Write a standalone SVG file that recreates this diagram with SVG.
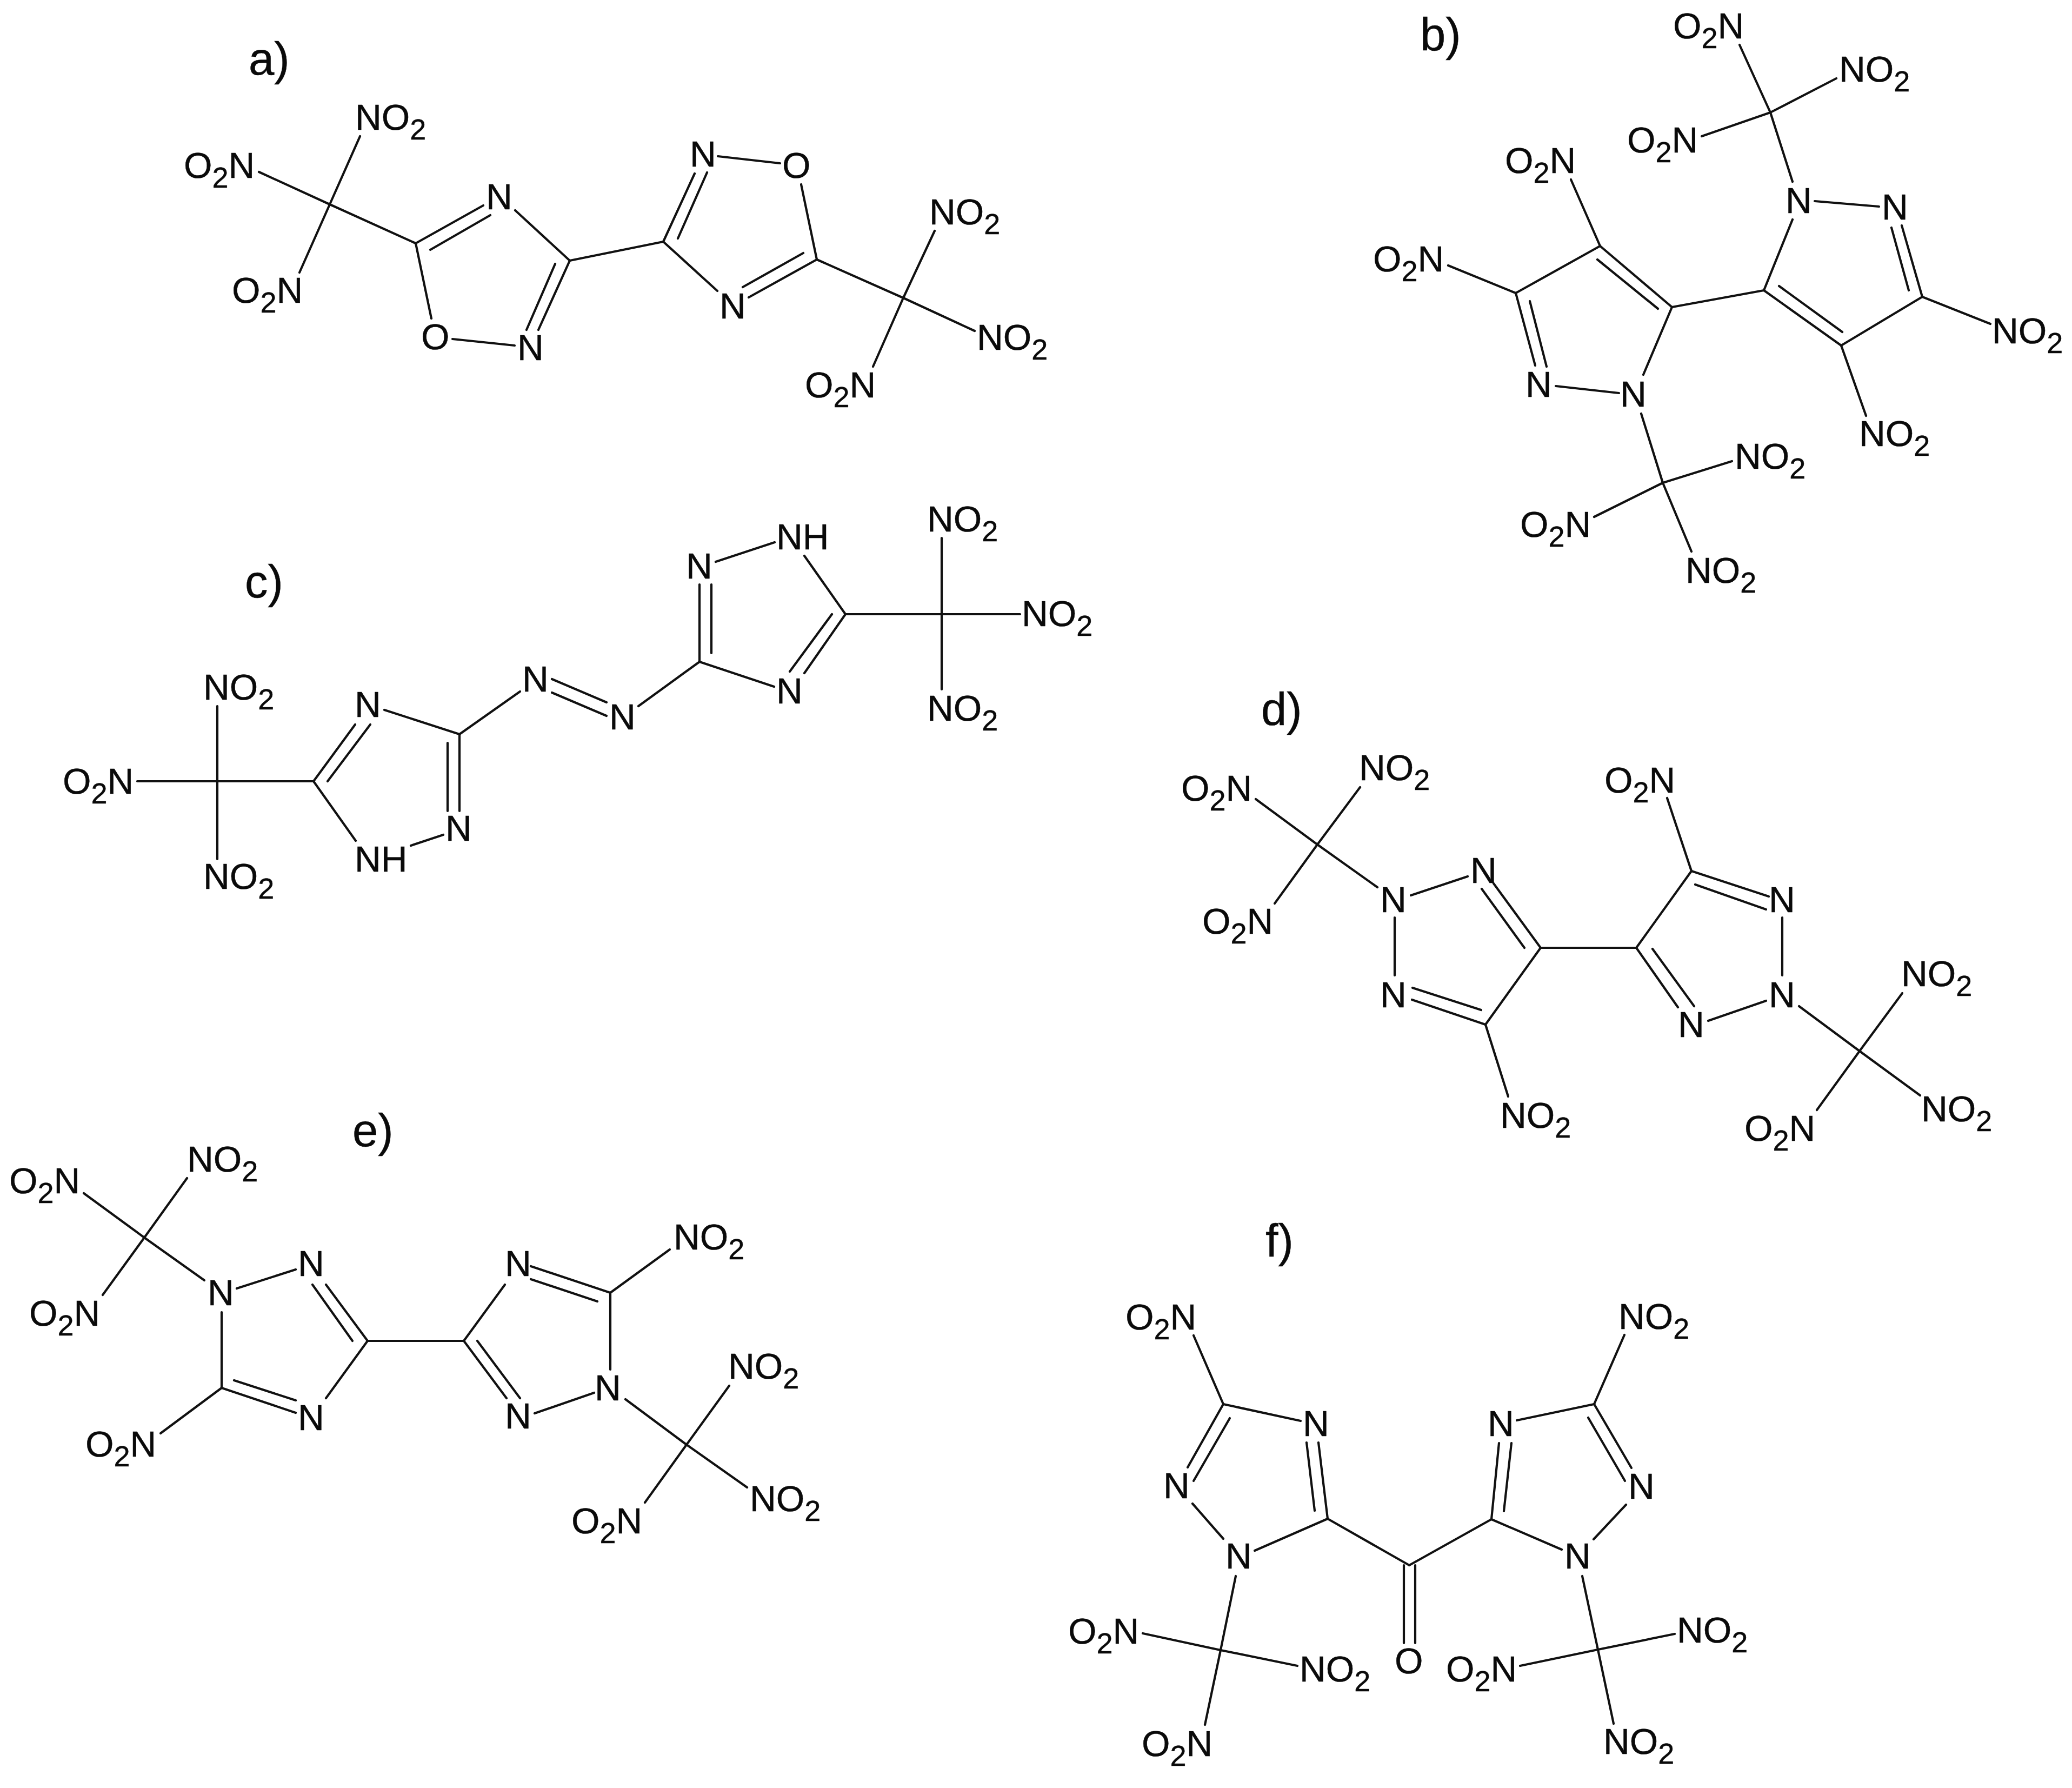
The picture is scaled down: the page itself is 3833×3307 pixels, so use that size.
<svg xmlns="http://www.w3.org/2000/svg" width="3833" height="3307" viewBox="0 0 3833 3307">
<style>
text{font-family:"Liberation Sans",Arial,sans-serif;font-size:67.5px;fill:#0a0a0a;stroke:#0a0a0a;stroke-width:.5px}
.t{font-size:85px}
.s{font-size:54px}
#connectors line{stroke:#111;stroke-width:4.2;stroke-linecap:round}
</style>
<rect width="3833" height="3307" fill="#fff"/>
<g id="connectors">
<g id="bonds-a">
<line x1="610" y1="378" x2="666" y2="252"/><line x1="610" y1="378" x2="479" y2="318"/><line x1="610" y1="378" x2="554" y2="504"/><line x1="610" y1="378" x2="769" y2="450"/>
<line x1="769" y1="450" x2="894" y2="380"/><line x1="796" y1="462" x2="907" y2="398"/><line x1="953" y1="389" x2="1054" y2="482"/><line x1="769" y1="450" x2="798" y2="589"/><line x1="837" y1="627" x2="952" y2="639"/>
<line x1="1054" y1="482" x2="996" y2="610"/><line x1="1027" y1="488" x2="974" y2="610"/><line x1="1054" y1="482" x2="1227" y2="447"/>
<line x1="1227" y1="447" x2="1285" y2="321"/><line x1="1254" y1="441" x2="1308" y2="319"/><line x1="1328" y1="289" x2="1443" y2="302"/><line x1="1227" y1="447" x2="1327" y2="538"/>
<line x1="1511" y1="480" x2="1385" y2="550"/><line x1="1486" y1="468" x2="1374" y2="531"/><line x1="1482" y1="341" x2="1511" y2="480"/><line x1="1511" y1="480" x2="1671" y2="551"/>
<line x1="1671" y1="551" x2="1729" y2="427"/><line x1="1671" y1="551" x2="1803" y2="612"/><line x1="1671" y1="551" x2="1615" y2="678"/>
</g>
<g id="bonds-b">
<line x1="3275" y1="208" x2="3218" y2="83"/><line x1="3275" y1="208" x2="3397" y2="145"/><line x1="3275" y1="208" x2="3148" y2="252"/><line x1="3275" y1="208" x2="3316" y2="336"/>
<line x1="3357" y1="372" x2="3476" y2="382"/><line x1="3263" y1="537" x2="3316" y2="406"/><line x1="3263" y1="537" x2="3406" y2="639"/><line x1="3291" y1="529" x2="3408" y2="614"/>
<line x1="3406" y1="639" x2="3556" y2="549"/><line x1="3556" y1="549" x2="3518" y2="417"/><line x1="3531" y1="537" x2="3499" y2="421"/><line x1="3556" y1="549" x2="3682" y2="599"/><line x1="3406" y1="639" x2="3452" y2="769"/>
<line x1="3093" y1="568" x2="3263" y2="537"/><line x1="3093" y1="568" x2="2960" y2="455"/><line x1="2955" y1="480" x2="3067" y2="571"/><line x1="2960" y1="455" x2="2804" y2="542"/><line x1="2960" y1="455" x2="2906" y2="332"/><line x1="2804" y1="542" x2="2679" y2="491"/>
<line x1="2804" y1="542" x2="2840" y2="676"/><line x1="2830" y1="557" x2="2861" y2="678"/><line x1="2878" y1="714" x2="2995" y2="727"/><line x1="3093" y1="568" x2="3040" y2="693"/>
<line x1="3036" y1="765" x2="3076" y2="893"/><line x1="3076" y1="893" x2="3204" y2="853"/><line x1="3076" y1="893" x2="2949" y2="956"/><line x1="3076" y1="893" x2="3129" y2="1020"/>
</g>
<g id="bonds-c">
<line x1="402" y1="1445" x2="402" y2="1306"/><line x1="402" y1="1445" x2="402" y2="1589"/><line x1="402" y1="1445" x2="254" y2="1445"/><line x1="402" y1="1445" x2="580" y2="1445"/>
<line x1="580" y1="1445" x2="657" y2="1340"/><line x1="606" y1="1445" x2="685" y2="1340"/><line x1="711" y1="1313" x2="850" y2="1358"/><line x1="850" y1="1358" x2="962" y2="1279"/>
<line x1="850" y1="1358" x2="850" y2="1500"/><line x1="828" y1="1374" x2="828" y2="1500"/><line x1="820" y1="1544" x2="760" y2="1564"/><line x1="580" y1="1445" x2="658" y2="1555"/>
<line x1="1021" y1="1256" x2="1122" y2="1299"/><line x1="1021" y1="1281" x2="1122" y2="1324"/>
<line x1="1294" y1="1224" x2="1181" y2="1306"/><line x1="1294" y1="1224" x2="1294" y2="1081"/><line x1="1316" y1="1208" x2="1316" y2="1081"/><line x1="1324" y1="1039" x2="1433" y2="1003"/><line x1="1488" y1="1028" x2="1564" y2="1136"/>
<line x1="1564" y1="1136" x2="1742" y2="1136"/><line x1="1742" y1="1136" x2="1742" y2="995"/><line x1="1742" y1="1136" x2="1742" y2="1275"/><line x1="1742" y1="1136" x2="1887" y2="1136"/>
<line x1="1564" y1="1136" x2="1488" y2="1245"/><line x1="1539" y1="1136" x2="1461" y2="1242"/><line x1="1294" y1="1224" x2="1432" y2="1270"/>
</g>
<g id="bonds-d">
<line x1="2437" y1="1562" x2="2516" y2="1456"/><line x1="2437" y1="1562" x2="2323" y2="1478"/><line x1="2437" y1="1562" x2="2358" y2="1671"/><line x1="2437" y1="1562" x2="2548" y2="1641"/>
<line x1="2610" y1="1656" x2="2715" y2="1621"/><line x1="2580" y1="1697" x2="2580" y2="1804"/><line x1="2850" y1="1753" x2="2763" y2="1634"/><line x1="2820" y1="1753" x2="2741" y2="1644"/>
<line x1="2850" y1="1753" x2="3027" y2="1753"/><line x1="2850" y1="1753" x2="2748" y2="1895"/><line x1="2748" y1="1895" x2="2612" y2="1849"/><line x1="2740" y1="1868" x2="2613" y2="1827"/><line x1="2748" y1="1895" x2="2790" y2="2028"/>
<line x1="3027" y1="1753" x2="3129" y2="1611"/><line x1="3129" y1="1611" x2="3084" y2="1476"/><line x1="3129" y1="1611" x2="3272" y2="1658"/><line x1="3136" y1="1636" x2="3267" y2="1682"/>
<line x1="3297" y1="1697" x2="3297" y2="1804"/><line x1="3267" y1="1851" x2="3160" y2="1888"/><line x1="3027" y1="1753" x2="3104" y2="1863"/><line x1="3057" y1="1755" x2="3134" y2="1861"/>
<line x1="3440" y1="1944" x2="3328" y2="1861"/><line x1="3440" y1="1944" x2="3519" y2="1837"/><line x1="3440" y1="1944" x2="3552" y2="2026"/><line x1="3440" y1="1944" x2="3361" y2="2053"/>
</g>
<g id="bonds-e">
<line x1="267" y1="2289" x2="346" y2="2179"/><line x1="267" y1="2289" x2="155" y2="2207"/><line x1="267" y1="2289" x2="190" y2="2395"/><line x1="267" y1="2289" x2="378" y2="2368"/>
<line x1="438" y1="2383" x2="547" y2="2348"/><line x1="410" y1="2427" x2="410" y2="2567"/><line x1="410" y1="2567" x2="547" y2="2613"/><line x1="433" y1="2553" x2="547" y2="2590"/><line x1="410" y1="2567" x2="297" y2="2651"/>
<line x1="680" y1="2480" x2="603" y2="2376"/><line x1="652" y1="2480" x2="578" y2="2376"/><line x1="680" y1="2480" x2="603" y2="2586"/><line x1="680" y1="2480" x2="858" y2="2480"/>
<line x1="858" y1="2480" x2="934" y2="2376"/><line x1="1129" y1="2391" x2="982" y2="2342"/><line x1="1105" y1="2407" x2="982" y2="2366"/><line x1="1129" y1="2391" x2="1239" y2="2311"/><line x1="1129" y1="2391" x2="1129" y2="2533"/>
<line x1="1099" y1="2576" x2="989" y2="2614"/><line x1="858" y1="2480" x2="937" y2="2586"/><line x1="883" y1="2480" x2="962" y2="2586"/>
<line x1="1157" y1="2588" x2="1270" y2="2672"/><line x1="1270" y1="2672" x2="1349" y2="2563"/><line x1="1270" y1="2672" x2="1382" y2="2751"/><line x1="1270" y1="2672" x2="1193" y2="2779"/>
</g>
<g id="bonds-f">
<line x1="2208" y1="2470" x2="2263" y2="2597"/><line x1="2263" y1="2597" x2="2406" y2="2628"/><line x1="2263" y1="2597" x2="2197" y2="2714"/><line x1="2275" y1="2623" x2="2208" y2="2739"/><line x1="2206" y1="2781" x2="2263" y2="2846"/>
<line x1="2321" y1="2868" x2="2456" y2="2809"/><line x1="2456" y1="2809" x2="2439" y2="2668"/><line x1="2432" y1="2794" x2="2417" y2="2668"/><line x1="2456" y1="2809" x2="2607" y2="2895"/><line x1="2607" y1="2895" x2="2759" y2="2810"/>
<line x1="2597" y1="2895" x2="2597" y2="3039"/><line x1="2618" y1="2895" x2="2618" y2="3039"/><line x1="2286" y1="2915" x2="2258" y2="3052"/><line x1="2258" y1="3052" x2="2114" y2="3021"/><line x1="2258" y1="3052" x2="2400" y2="3081"/><line x1="2258" y1="3052" x2="2229" y2="3190"/>
<line x1="2759" y1="2810" x2="2773" y2="2669"/><line x1="2782" y1="2795" x2="2796" y2="2669"/><line x1="2806" y1="2627" x2="2949" y2="2597"/><line x1="2949" y1="2597" x2="3005" y2="2469"/><line x1="2949" y1="2597" x2="3018" y2="2715"/><line x1="2938" y1="2622" x2="3006" y2="2739"/>
<line x1="3008" y1="2783" x2="2948" y2="2847"/><line x1="2759" y1="2810" x2="2889" y2="2866"/><line x1="2927" y1="2915" x2="2956" y2="3051"/><line x1="2956" y1="3051" x2="3098" y2="3022"/><line x1="2956" y1="3051" x2="2812" y2="3081"/><line x1="2956" y1="3051" x2="2985" y2="3188"/>
</g>
</g>
<g id="mol-a">
<text class="t" x="460" y="138">a)</text>
<text x="657" y="240">NO<tspan class="s" dy="18">2</tspan></text>
<text x="340" y="329">O<tspan class="s" dy="18">2</tspan><tspan dy="-18">N</tspan></text>
<text x="429" y="560">O<tspan class="s" dy="18">2</tspan><tspan dy="-18">N</tspan></text>
<text x="899" y="387">N</text><text x="779" y="646">O</text><text x="957" y="666">N</text>
<text x="1276" y="308">N</text><text x="1447" y="329">O</text><text x="1331" y="589">N</text>
<text x="1719" y="415">NO<tspan class="s" dy="18">2</tspan></text>
<text x="1807" y="647">NO<tspan class="s" dy="18">2</tspan></text>
<text x="1489" y="735">O<tspan class="s" dy="18">2</tspan><tspan dy="-18">N</tspan></text>
</g>
<g id="mol-b">
<text class="t" x="2627" y="93">b)</text>
<text x="3095" y="71">O<tspan class="s" dy="18">2</tspan><tspan dy="-18">N</tspan></text>
<text x="3402" y="151">NO<tspan class="s" dy="18">2</tspan></text>
<text x="3010" y="282">O<tspan class="s" dy="18">2</tspan><tspan dy="-18">N</tspan></text>
<text x="2784" y="320">O<tspan class="s" dy="18">2</tspan><tspan dy="-18">N</tspan></text>
<text x="2540" y="502">O<tspan class="s" dy="18">2</tspan><tspan dy="-18">N</tspan></text>
<text x="3303" y="394">N</text><text x="3481" y="406">N</text><text x="2822" y="734">N</text><text x="2997" y="752">N</text>
<text x="3685" y="635">NO<tspan class="s" dy="18">2</tspan></text>
<text x="3439" y="825">NO<tspan class="s" dy="18">2</tspan></text>
<text x="3209" y="867">NO<tspan class="s" dy="18">2</tspan></text>
<text x="2812" y="993">O<tspan class="s" dy="18">2</tspan><tspan dy="-18">N</tspan></text>
<text x="3118" y="1078">NO<tspan class="s" dy="18">2</tspan></text>
</g>
<g id="mol-c">
<text class="t" x="453" y="1105">c)</text>
<text x="376" y="1294">NO<tspan class="s" dy="18">2</tspan></text>
<text x="116" y="1468">O<tspan class="s" dy="18">2</tspan><tspan dy="-18">N</tspan></text>
<text x="376" y="1644">NO<tspan class="s" dy="18">2</tspan></text>
<text x="656" y="1326">N</text><text x="966" y="1279">N</text><text x="824" y="1555">N</text><text x="656" y="1612">NH</text>
<text x="1127" y="1349">N</text><text x="1269" y="1070">N</text><text x="1436" y="1016">NH</text><text x="1436" y="1301">N</text>
<text x="1715" y="983">NO<tspan class="s" dy="18">2</tspan></text>
<text x="1890" y="1158">NO<tspan class="s" dy="18">2</tspan></text>
<text x="1715" y="1333">NO<tspan class="s" dy="18">2</tspan></text>
</g>
<g id="mol-d">
<text class="t" x="2333" y="1341">d)</text>
<text x="2514" y="1443">NO<tspan class="s" dy="18">2</tspan></text>
<text x="2185" y="1481">O<tspan class="s" dy="18">2</tspan><tspan dy="-18">N</tspan></text>
<text x="2224" y="1727">O<tspan class="s" dy="18">2</tspan><tspan dy="-18">N</tspan></text>
<text x="2968" y="1466">O<tspan class="s" dy="18">2</tspan><tspan dy="-18">N</tspan></text>
<text x="2553" y="1687">N</text><text x="2720" y="1633">N</text><text x="2553" y="1863">N</text>
<text x="3272" y="1687">N</text><text x="3272" y="1863">N</text><text x="3104" y="1918">N</text>
<text x="3517" y="1824">NO<tspan class="s" dy="18">2</tspan></text>
<text x="3554" y="2074">NO<tspan class="s" dy="18">2</tspan></text>
<text x="2775" y="2086">NO<tspan class="s" dy="18">2</tspan></text>
<text x="3227" y="2110">O<tspan class="s" dy="18">2</tspan><tspan dy="-18">N</tspan></text>
</g>
<g id="mol-e">
<text class="t" x="652" y="2120">e)</text>
<text x="346" y="2167">NO<tspan class="s" dy="18">2</tspan></text>
<text x="17" y="2207">O<tspan class="s" dy="18">2</tspan><tspan dy="-18">N</tspan></text>
<text x="54" y="2452">O<tspan class="s" dy="18">2</tspan><tspan dy="-18">N</tspan></text>
<text x="384" y="2414">N</text><text x="551" y="2360">N</text><text x="551" y="2645">N</text>
<text x="158" y="2694">O<tspan class="s" dy="18">2</tspan><tspan dy="-18">N</tspan></text>
<text x="934" y="2360">N</text><text x="934" y="2642">N</text><text x="1100" y="2590">N</text>
<text x="1246" y="2311">NO<tspan class="s" dy="18">2</tspan></text>
<text x="1347" y="2550">NO<tspan class="s" dy="18">2</tspan></text>
<text x="1387" y="2795">NO<tspan class="s" dy="18">2</tspan></text>
<text x="1057" y="2836">O<tspan class="s" dy="18">2</tspan><tspan dy="-18">N</tspan></text>
</g>
<g id="mol-f">
<text class="t" x="2341" y="2324">f)</text>
<text x="2082" y="2459">O<tspan class="s" dy="18">2</tspan><tspan dy="-18">N</tspan></text>
<text x="2410" y="2656">N</text><text x="2152" y="2771">N</text><text x="2267" y="2901">N</text>
<text x="1976" y="3040">O<tspan class="s" dy="18">2</tspan><tspan dy="-18">N</tspan></text>
<text x="2404" y="3110">NO<tspan class="s" dy="18">2</tspan></text>
<text x="2580" y="3095">O</text>
<text x="2112" y="3248">O<tspan class="s" dy="18">2</tspan><tspan dy="-18">N</tspan></text>
<text x="2675" y="3110">O<tspan class="s" dy="18">2</tspan><tspan dy="-18">N</tspan></text>
<text x="2752" y="2656">N</text>
<text x="2994" y="2458">NO<tspan class="s" dy="18">2</tspan></text>
<text x="3012" y="2772">N</text><text x="2894" y="2901">N</text>
<text x="3102" y="3038">NO<tspan class="s" dy="18">2</tspan></text>
<text x="2966" y="3244">NO<tspan class="s" dy="18">2</tspan></text>
</g>
</svg>
